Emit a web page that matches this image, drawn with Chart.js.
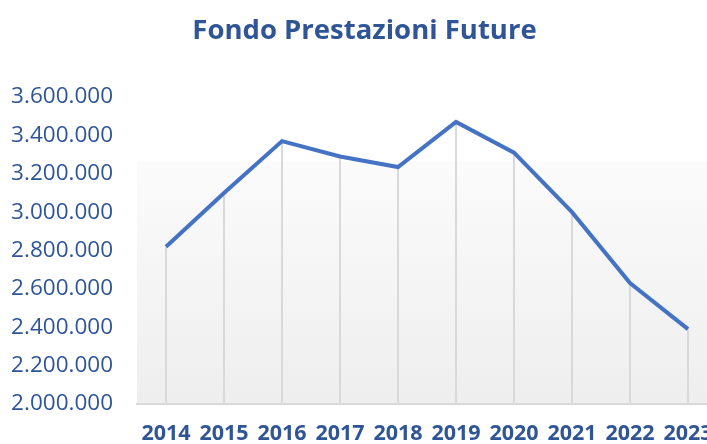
<!DOCTYPE html>
<html>
<head>
<meta charset="utf-8">
<script src="https://cdn.jsdelivr.net/npm/chart.js@4.4.1/dist/chart.umd.min.js"></script>
<style>
  html, body { margin: 0; padding: 0; background: #fff; overflow: hidden; }
  #wrap { width: 722px; height: 444px; }
</style>
</head>
<body>
<div id="wrap"><canvas id="chart" width="722" height="444"></canvas></div>
<script>
const years = ['2014', '2015', '2016', '2017', '2018', '2019', '2020', '2021', '2022', '2023'];
const fondo = [2820000, 3100000, 3370000, 3290000, 3235000, 3470000, 3310000, 3000000, 2630000, 2390000];
const yMin = 2000000, yMax = 3600000, yStep = 200000;

const blue = '#2F5597';
const fmtNum = (v) => String(v).replace(/\B(?=(\d{3})+(?!\d))/g, '.');

// gray gradient panel behind the plot, like the Excel plot area
const plotBg = {
    id: 'plotBg',
    beforeDraw(chart) {
        const { ctx, chartArea: a } = chart;
        const top = a.top + (a.bottom - a.top) * 0.21;
        const g = ctx.createLinearGradient(0, top, 0, a.bottom);
        g.addColorStop(0, '#fbfbfb');
        g.addColorStop(1, '#eeeeee');
        ctx.save();
        ctx.fillStyle = g;
        ctx.fillRect(a.left, top, a.right - a.left, a.bottom - top);
        ctx.restore();
    }
};

// vertical drop lines from each point down to the axis
const dropLines = {
    id: 'dropLines',
    beforeDatasetsDraw(chart) {
        const { ctx, chartArea: a } = chart;
        const pts = chart.getDatasetMeta(0).data;
        ctx.save();
        ctx.strokeStyle = '#d9d9d9';
        ctx.lineWidth = 2;
        pts.forEach(p => {
            ctx.beginPath();
            ctx.moveTo(Math.round(p.x), p.y);
            ctx.lineTo(Math.round(p.x), a.bottom);
            ctx.stroke();
        });
        ctx.restore();
    }
};

new Chart(document.getElementById('chart'), {
    type: 'line',
    data: {
        labels: years,
        datasets: [{
            data: fondo,
            borderColor: '#4472C4',
            borderWidth: 4,
            pointRadius: 0,
            tension: 0,
            fill: false
        }]
    },
    options: {
        responsive: false,
        animation: false,
        layout: { padding: { left: 12, right: 5, top: 0, bottom: 0 } },
        plugins: {
            legend: { display: false },
            tooltip: { enabled: false },
            title: {
                display: true,
                text: 'Fondo Prestazioni Future',
                color: blue,
                font: { family: 'Open Sans', size: 27.5, weight: 'bold' },
                padding: { top: 15, bottom: 49 }
            }
        },
        scales: {
            x: {
                offset: true,
                grid: { display: false, drawTicks: false, tickLength: 0 },
                border: { display: true, color: '#d9d9d9', width: 2 },
                ticks: {
                    color: blue,
                    font: { family: 'Open Sans', size: 21.5, weight: 'bold' },
                    padding: 17,
                    maxRotation: 0,
                    autoSkip: false
                },
                afterFit: (s) => { s.height = 40; s.paddingLeft = 0; s.paddingRight = 0; }
            },
            y: {
                min: yMin,
                max: yMax,
                grid: { display: false, drawTicks: false, tickLength: 0 },
                border: { display: false },
                ticks: {
                    stepSize: yStep,
                    color: blue,
                    font: { family: 'Open Sans', size: 22.5 },
                    padding: 24,
                    callback: (v) => fmtNum(v)
                },
                afterFit: (s) => { s.width = 125; s.paddingTop = 0; s.paddingBottom = 0; }
            }
        }
    },
    plugins: [plotBg, dropLines]
});
</script>
</body>
</html>
